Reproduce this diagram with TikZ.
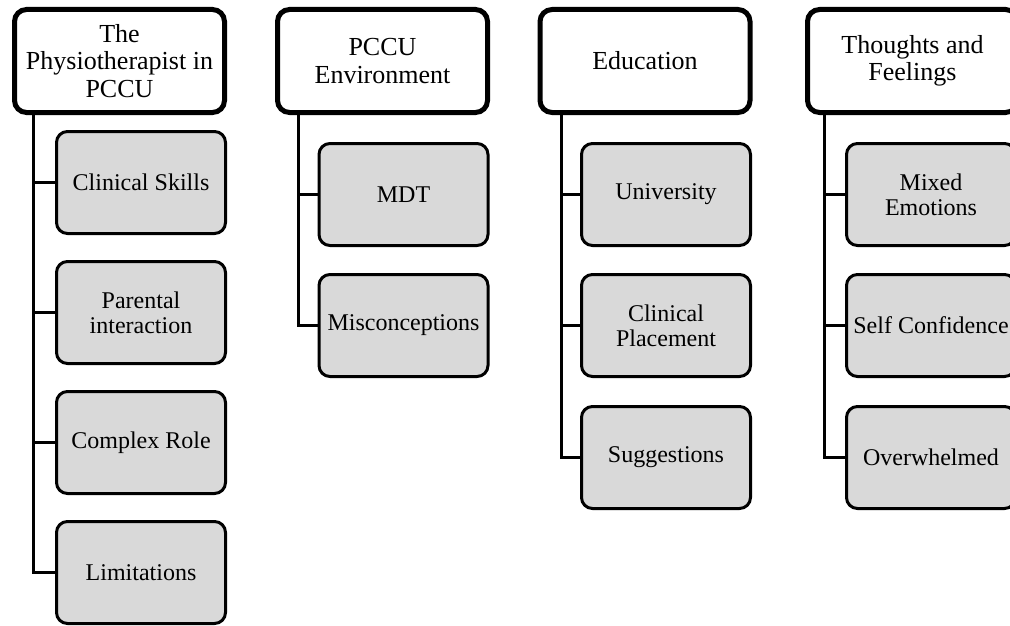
\documentclass[tikz,border=0pt]{standalone}
\usepackage{fontspec}
\setmainfont{Liberation Serif}
\begin{document}
\begin{tikzpicture}[x=1pt,y=-1pt]
    \tikzstyle{theme}=[draw=black,fill=white,line width=5pt,rounded corners=12pt,minimum width=210pt,minimum height=103pt,inner sep=0pt,align=center,font=\fontsize{26}{27.5}\selectfont]
    \tikzstyle{subtheme}=[draw=black,fill=black!15,line width=3pt,rounded corners=11pt,minimum width=169pt,minimum height=102pt,inner sep=0pt,align=center,font=\fontsize{24}{25}\selectfont]
    \tikzstyle{link}=[draw=black,line width=3pt]

    \useasboundingbox (0,0) rectangle (1010,626);

    % main themes
    \node[theme] at (119.5,61) (physio) {The\\Physiotherapist in\\PCCU};
    \node[theme] at (382.5,61) (env) {PCCU\\Environment};
    \node[theme] at (645,61) (edu) {Education};
    \node[theme] at (912.5,61) (feel) {Thoughts and\\Feelings};

    % sub-themes
    \node[subtheme] at (141,182.5) (skills) {Clinical Skills};
    \node[subtheme] at (141,312.5) (parent) {Parental\\interaction};
    \node[subtheme] at (141,442.5) (role) {Complex Role};
    \node[subtheme] at (141,572.5) (limit) {Limitations};

    \node[subtheme] at (403.5,194.5) (mdt) {MDT};
    \node[subtheme] at (403.5,325.5) (miscon) {Misconceptions};

    \node[subtheme] at (666,194.5) (uni) {University};
    \node[subtheme] at (666,325.5) (place) {Clinical\\Placement};
    \node[subtheme] at (666,457.5) (suggest) {Suggestions};

    \node[subtheme] at (931,194.5) (mixed) {Mixed\\Emotions};
    \node[subtheme] at (931,325.5) (confid) {Self Confidence};
    \node[subtheme] at (931,457.5) (over) {Overwhelmed};

    % connectors
    \draw[link] ([xshift=21pt]physio.south west) |- (skills.west);
    \draw[link] ([xshift=21pt]physio.south west) |- (parent.west);
    \draw[link] ([xshift=21pt]physio.south west) |- (role.west);
    \draw[link] ([xshift=21pt]physio.south west) |- (limit.west);

    \draw[link] ([xshift=23pt]env.south west) |- (mdt.west);
    \draw[link] ([xshift=23pt]env.south west) |- (miscon.west);

    \draw[link] ([xshift=24pt]edu.south west) |- (uni.west);
    \draw[link] ([xshift=24pt]edu.south west) |- (place.west);
    \draw[link] ([xshift=24pt]edu.south west) |- (suggest.west);

    \draw[link] ([xshift=19pt]feel.south west) |- (mixed.west);
    \draw[link] ([xshift=19pt]feel.south west) |- (confid.west);
    \draw[link] ([xshift=19pt]feel.south west) |- (over.west);
\end{tikzpicture}
\end{document}
